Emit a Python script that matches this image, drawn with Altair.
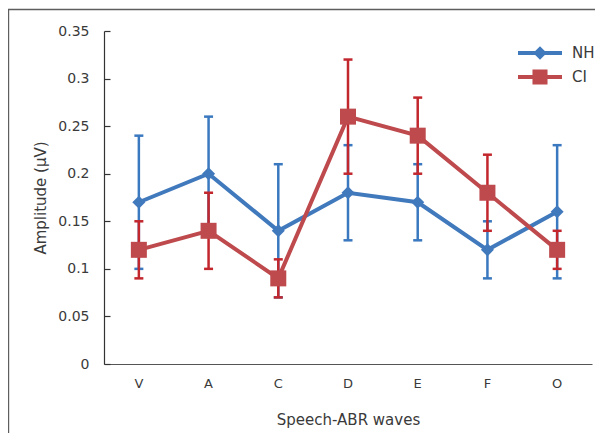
import altair as alt
import pandas as pd

waves = ["V", "A", "C", "D", "E", "F", "O"]
series_names = ["NH", "CI"]
nh_mean = [0.17, 0.20, 0.14, 0.18, 0.17, 0.12, 0.16]
nh_upper = [0.24, 0.26, 0.21, 0.23, 0.21, 0.15, 0.23]
nh_lower = [0.10, 0.14, 0.07, 0.13, 0.13, 0.09, 0.09]
ci_mean = [0.12, 0.14, 0.09, 0.26, 0.24, 0.18, 0.12]
ci_upper = [0.15, 0.18, 0.11, 0.32, 0.28, 0.22, 0.14]
ci_lower = [0.09, 0.10, 0.07, 0.20, 0.20, 0.14, 0.10]
y_ticks = [0, 0.05, 0.1, 0.15, 0.2, 0.25, 0.3, 0.35]

NH_LINE = "#4179bd"
NH_BAR = "#3a78bf"
CI_LINE = "#be4a4d"
CI_BAR = "#c2272e"
FONT = "DejaVu Sans"
TXT = "#3a3a3a"
YTITLE = "Amplitude (μV)"
FRAME = "#5e5e5e"

W, H = 488, 333

rows = []
for name, m, u, l in [("NH", nh_mean, nh_upper, nh_lower), ("CI", ci_mean, ci_upper, ci_lower)]:
    for w, mv, uv, lv in zip(waves, m, u, l):
        rows.append({"series": name, "wave": w, "mean": mv, "upper": uv, "lower": lv})
df = pd.DataFrame(rows)

yscale = alt.Scale(domain=[0, 0.35], nice=False, zero=True)
yaxis = alt.Axis(values=y_ticks, ticks=False, labelPadding=15, labelFontSize=14,
                 domainColor="#333333", domainWidth=1.2, titlePadding=9, titleFontSize=15,
                 labelExpr="datum.value == 0 ? '0' : format(datum.value, '.2~f')")
xenc = alt.X("wave:N", sort=waves, scale=alt.Scale(domain=waves),
             axis=alt.Axis(title="Speech-ABR waves", labelAngle=0, ticks=False,
                           labelPadding=13, titlePadding=22, domainColor="#555555",
                           domainWidth=1.2, labelFontSize=13, titleFontSize=15))


def Y(field):
    return alt.Y(field, scale=yscale, axis=yaxis, title=YTITLE)


base = alt.Chart(df)


def series_layers(name, shape, line_color, bar_color, size):
    b = base.transform_filter(alt.datum.series == name)
    rule = b.mark_rule(color=bar_color, strokeWidth=2.5).encode(
        x=xenc, y=Y("lower:Q"), y2="upper:Q")
    caps = b.transform_fold(["lower", "upper"], as_=["k", "v"]).mark_tick(
        color=bar_color, thickness=2.5, size=9, opacity=1).encode(
        x=xenc, y=Y("v:Q"))
    line = b.mark_line(color=line_color, strokeWidth=4).encode(
        x=xenc, y=Y("mean:Q"))
    pts = b.mark_point(shape=shape, filled=True, color=line_color, size=size, opacity=1).encode(
        x=xenc, y=Y("mean:Q"))
    return [rule, caps, line, pts]


one = pd.DataFrame({"a": [0]})
frame_top = alt.Chart(one).mark_rule(color=FRAME, strokeWidth=1.4).encode(
    x=alt.value(-96), x2=alt.value(W + 60), y=alt.value(-21.5))
frame_left = alt.Chart(one).mark_rule(color=FRAME, strokeWidth=1.4).encode(
    x=alt.value(-95.5), y=alt.value(-22), y2=alt.value(H + 200))

sq_path = "M-2.75,-0.25H2.75V0.25H-2.75Z M-0.94,-0.94H0.94V0.94H-0.94Z"
di_path = "M-2.75,-0.25H2.75V0.25H-2.75Z M0,-0.85L0.85,0L0,0.85L-0.85,0Z"

leg = alt.Legend(title=None, orient="none", legendX=428, legendY=14,
                 symbolOpacity=1, symbolStrokeWidth=0, labelFontSize=15,
                 labelColor=TXT, labelFont=FONT, labelOffset=24,
                 rowPadding=8, padding=0, symbolSize=256)

legend_layer = alt.Chart(pd.DataFrame({"series": series_names})).mark_point(
    filled=True, opacity=0, size=256).encode(
    color=alt.Color("series:N", scale=alt.Scale(domain=series_names, range=[NH_LINE, CI_LINE]),
                    legend=leg),
    shape=alt.Shape("series:N", scale=alt.Scale(domain=series_names, range=[di_path, sq_path]),
                    legend=leg),
)

main = alt.layer(frame_top, frame_left,
                 *series_layers("NH", "diamond", NH_LINE, NH_BAR, 170),
                 *series_layers("CI", "square", CI_LINE, CI_BAR, 256),
                 legend_layer)

tick_layer = alt.Chart(pd.DataFrame({"t": y_ticks})).mark_point(opacity=0).encode(
    y=alt.Y("t:Q", scale=yscale,
            axis=alt.Axis(orient="right", offset=-W, labels=False, domain=False, ticks=True,
                          tickSize=6, tickColor="#333333", tickWidth=1.2, title=None,
                          values=y_ticks, grid=False)))

chart = alt.layer(main, tick_layer).resolve_scale(y="independent").properties(
    width=W, height=H, autosize="none",
    padding={"left": 96, "top": 23, "right": 3, "bottom": 69},
).configure(font=FONT).configure_axis(
    labelFont=FONT, titleFont=FONT,
    labelColor=TXT, titleColor=TXT, titleFontWeight="normal", grid=False
).configure_view(strokeWidth=0)

chart.save("out.html", embed_options={"renderer": "svg", "actions": False})
